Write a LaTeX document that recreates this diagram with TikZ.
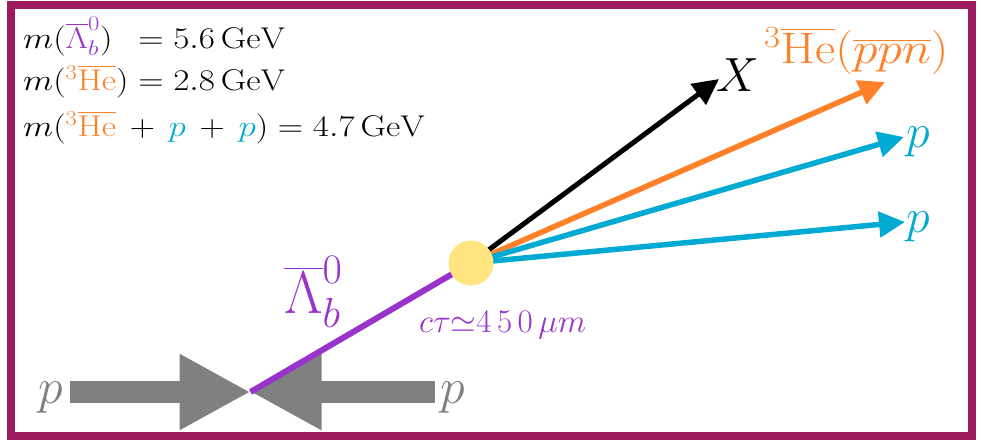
\RequirePackage{fix-cm}
\documentclass[tikz,border=0pt]{standalone}
\usepackage{mathtools}
\usepackage{graphicx}
\usetikzlibrary{arrows.meta}
\definecolor{framec}{RGB}{155,27,94}
\definecolor{lam}{RGB}{153,51,204}
\definecolor{hec}{RGB}{255,128,40}
\definecolor{pc}{RGB}{0,170,210}
\definecolor{vtx}{RGB}{255,228,128}
\definecolor{beamc}{RGB}{128,128,128}
\newcommand{\wide}[2][1.17]{\scalebox{#1}[1]{#2}}
\begin{document}
\begin{tikzpicture}[x=1pt,y=-1pt,
  info/.style={anchor=base west,inner sep=0pt,font=\fontsize{30}{34}\selectfont},
  beam/.style={line width=21.6pt,color=beamc,-{Triangle[length=71pt,width=71pt]}},
  beamlbl/.style={anchor=base west,inner sep=0pt,text=beamc,font=\fontsize{50}{54}\selectfont},
  track/.style={line width=5.5pt,-{Triangle[length=26pt,width=25pt]}},
  biglbl/.style={anchor=base west,inner sep=0pt,font=\fontsize{48}{52}\selectfont}]
\useasboundingbox (0,0) rectangle (981,440);
\draw[line width=8pt,color=framec] (11,5) rectangle (971.5,436);
% info text
\node[info] (t1) at (23,48) {\wide{$m(\mathrlap{\textcolor{lam}{\overline{\Lambda}_b^0})}\hphantom{\textcolor{hec}{{}^3\overline{\mathrm{He}}})} = 5.6\,\mathrm{GeV}$}};
\node[info] (t2) at (23,90) {\wide{$m(\textcolor{hec}{{}^3\overline{\mathrm{He}}}) = 2.8\,\mathrm{GeV}$}};
\node[info] (t3) at (23,136) {\wide{$m(\textcolor{hec}{{}^3\overline{\mathrm{He}}}\,+\,\textcolor{pc}{p}\,+\,\textcolor{pc}{p}) = 4.7\,\mathrm{GeV}$}};
% beams
\coordinate (ip) at (250.5,392);
\coordinate (ls) at (70.4,392);
\coordinate (rs) at (434.5,392);
\node[beamlbl] (pL) at (38,403) {$p$};
\node[beamlbl] (pR) at (440,403) {$p$};
\draw[beam] (ls) -- (ip);
\draw[beam] (rs) -- (ip);
% decay
\coordinate (v) at (471,263);
\draw[line width=6pt,color=lam] (ip) -- (v);
\coordinate (xe) at (719,79);
\coordinate (he) at (885,82);
\coordinate (p1e) at (904,137);
\coordinate (p2e) at (905,222);
\draw[track,color=black,line width=5pt] (v) -- (xe);
\draw[track,color=hec] (v) -- (he);
\draw[track,color=pc] (v) -- (p1e);
\draw[track,color=pc] (v) -- (p2e);
\node[circle,fill=vtx,minimum size=45pt,inner sep=0pt] (dot) at (v) {};
% labels
\node[biglbl] (X) at (716,91) {$X$};
\node[biglbl,text=hec,font=\fontsize{44}{48}\selectfont] (HE) at (764,63) {\wide[1.13]{${}^3\overline{\mathrm{He}}(\overline{p}\overline{p}\overline{n})$}};
\node[biglbl,text=pc] (P1) at (906,147) {$p$};
\node[biglbl,text=pc] (P2) at (906,232) {$p$};
\node[biglbl,text=lam,font=\fontsize{60}{64}\selectfont] (LB) at (284,313) {$\overline{\Lambda}_b^0$};
\node[inner sep=0pt,anchor=base west,text=lam,font=\fontsize{33}{37}\selectfont] (ct) at (419,332) {$c\tau{\simeq}4\mkern3mu5\mkern3mu0\,\mu m$};
\end{tikzpicture}
\end{document}
